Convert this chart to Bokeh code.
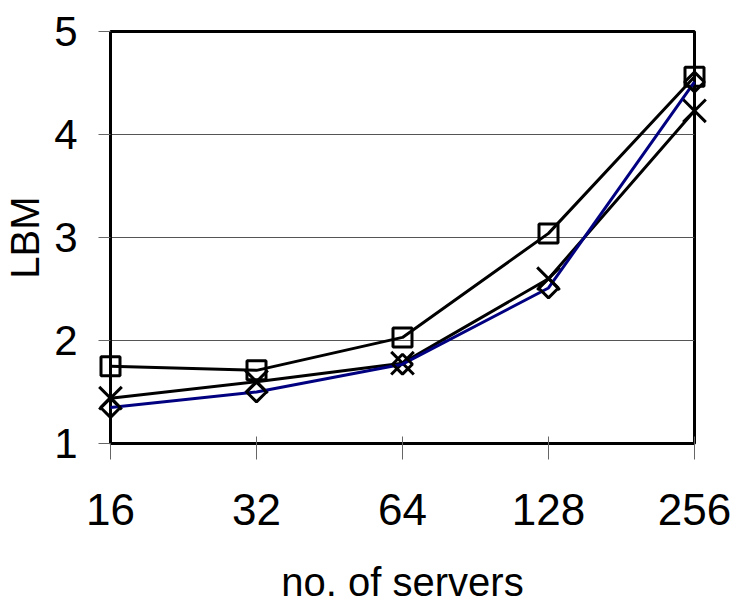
from math import pi
from bokeh.plotting import figure
from bokeh.models import Range1d, FixedTicker
from bokeh.embed import file_html
from bokeh.resources import INLINE

servers = ["16", "32", "64", "128", "256"]
series_square = [1.75, 1.71, 2.03, 3.04, 4.56]
series_cross = [1.44, 1.60, 1.78, 2.60, 4.23]
series_diamond = [1.35, 1.50, 1.77, 2.51, 4.51]
y_ticks = [1, 2, 3, 4, 5]

xs = list(range(len(servers)))
FONT = "'Liberation Sans', Arial, sans-serif"

p = figure(width=736, height=608, output_backend="svg", toolbar_location=None,
           x_range=Range1d(0, len(servers) - 1), y_range=Range1d(1, 5),
           min_border_left=110, min_border_right=42, min_border_top=31, min_border_bottom=165)
p.frame_width = 584
p.frame_height = 412

p.outline_line_color = "black"
p.outline_line_width = 3
p.xgrid.grid_line_color = None
p.ygrid.grid_line_color = "#555555"
p.ygrid.grid_line_width = 1

p.xaxis.ticker = FixedTicker(ticks=xs)
p.xaxis.major_label_overrides = {i: s for i, s in enumerate(servers)}
p.yaxis.ticker = FixedTicker(ticks=y_ticks)
p.xaxis.minor_tick_line_color = None
p.yaxis.minor_tick_line_color = None

for ax in (p.xaxis[0], p.yaxis[0]):
    ax.axis_line_color = "black"
    ax.axis_line_width = 3
    ax.major_tick_line_color = "#666666"
    ax.major_tick_line_width = 1
    ax.major_label_text_font = FONT
    ax.major_label_text_color = "black"
    ax.axis_label_text_font = FONT
    ax.axis_label_text_font_style = "normal"
    ax.axis_label_text_color = "black"
    ax.axis_label_text_font_size = "40px"

p.xaxis.major_tick_in = 7
p.xaxis.major_tick_out = 16
p.xaxis.major_label_text_font_size = "44px"
p.xaxis.major_label_standoff = 34
p.xaxis.axis_label = "no. of servers"
p.xaxis.axis_label_standoff = 32

p.yaxis.major_tick_in = 0
p.yaxis.major_tick_out = 12
p.yaxis.major_label_text_font_size = "42px"
p.yaxis.major_label_standoff = 21
p.yaxis.axis_label = "LBM"
p.yaxis.axis_label_standoff = 4

LW = 3
# square series
p.line(xs, series_square, line_color="black", line_width=LW, level="overlay")
p.scatter(xs, series_square, marker="square", size=19, line_color="black",
          line_width=LW, fill_alpha=0, level="overlay")
# cross series
p.line(xs, series_cross, line_color="black", line_width=LW, level="overlay")
p.scatter(xs, series_cross, marker="x", size=32, line_color="black", line_width=LW,
          level="overlay")
# diamond series
p.line(xs, series_diamond, line_color="#000080", line_width=LW, level="overlay")
p.scatter(xs, series_diamond, marker="square", angle=pi / 4, size=14, line_color="black",
          line_width=LW, fill_alpha=0, level="overlay")

open("out.html", "w").write(file_html(p, INLINE))
